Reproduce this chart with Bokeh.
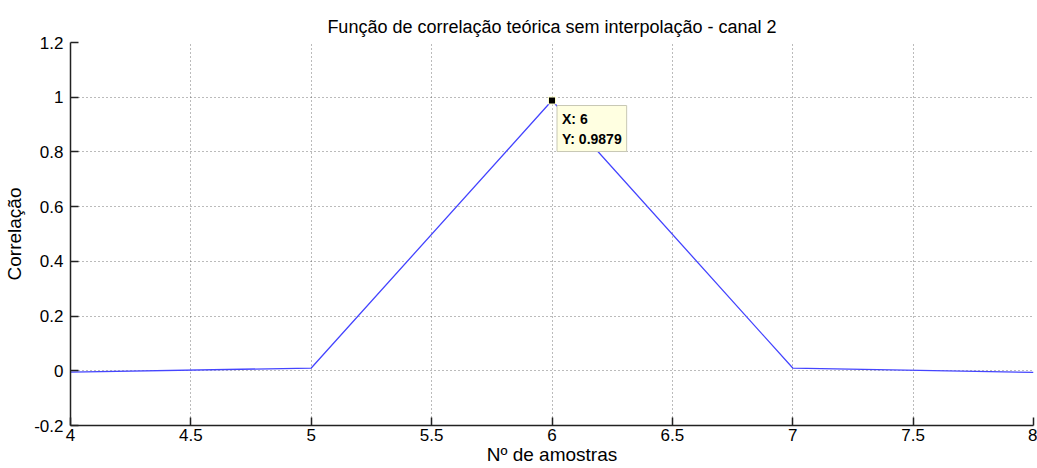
from bokeh.plotting import figure
from bokeh.models import FixedTicker, Label, Range1d
from bokeh.embed import file_html
from bokeh.resources import INLINE

# data
samples = [4, 5, 6, 7, 8]
correlation = [-0.005, 0.01, 0.9879, 0.01, -0.006]
tip_x = 6
tip_y = 0.9879

x_ticks = [4, 4.5, 5, 5.5, 6, 6.5, 7, 7.5, 8]
x_tick_labels = ["4", "4.5", "5", "5.5", "6", "6.5", "7", "7.5", "8"]
y_ticks = [-0.2, 0, 0.2, 0.4, 0.6, 0.8, 1, 1.2]
y_tick_labels = ["-0.2", "0", "0.2", "0.4", "0.6", "0.8", "1", "1.2"]

title = "Função de correlação teórica sem interpolação - canal 2"
x_label = "Nº de amostras"
y_label = "Correlação"

FONT = "Liberation Sans"

p = figure(width=1037, height=468, output_backend="svg", toolbar_location=None,
           x_range=Range1d(4, 8), y_range=Range1d(-0.2, 1.2),
           min_border_left=70, min_border_right=4, min_border_top=42, min_border_bottom=43)

p.title.text = title
p.title.align = "center"
p.title.text_font = FONT
p.title.text_font_size = "18px"
p.title.text_font_style = "normal"
p.title.text_color = "black"
p.title.standoff = 12

p.outline_line_color = None
p.background_fill_color = "white"
p.border_fill_color = "white"

for ax, ticks, labels in ((p.xaxis[0], x_ticks, x_tick_labels), (p.yaxis[0], y_ticks, y_tick_labels)):
    ax.ticker = FixedTicker(ticks=ticks, minor_ticks=[])
    ax.major_label_overrides = {t: l for t, l in zip(ticks, labels)}
    ax.major_tick_in = 8
    ax.major_tick_out = 0
    ax.minor_tick_in = 0
    ax.minor_tick_out = 0
    ax.axis_line_color = "#222222"
    ax.axis_line_width = 1.5
    ax.major_tick_line_color = "#222222"
    ax.major_tick_line_width = 1.5
    ax.major_label_text_font = FONT
    ax.major_label_text_font_size = "17px"
    ax.major_label_text_color = "black"
    ax.axis_label_text_font = FONT
    ax.axis_label_text_font_size = "19px"
    ax.axis_label_text_font_style = "normal"
    ax.axis_label_text_color = "black"

p.xaxis.axis_label = x_label
p.yaxis.axis_label = y_label
p.xaxis.major_label_standoff = 3
p.xaxis.axis_label_standoff = 0
p.yaxis.major_label_standoff = 7
p.yaxis.axis_label_standoff = 6

for g in (p.xgrid[0], p.ygrid[0]):
    g.grid_line_color = "#555555"
    g.grid_line_dash = "1 3"
    g.grid_line_width = 1
    g.grid_line_alpha = 0.8

p.line(samples, correlation, line_color="#4545ff", line_width=1.3)

p.scatter([tip_x], [tip_y], marker="square", size=7, fill_color="black", line_color="#ffffcc")

tip = Label(x=tip_x, y=tip_y, x_offset=5, y_offset=-5,
            text=f"X: {tip_x}\nY: {tip_y}",
            text_font=FONT, text_font_size="14px", text_font_style="bold",
            text_color="black", text_line_height=1.25,
            text_align="left", text_baseline="top",
            background_fill_color="#ffffe1", border_line_color="#c8c8b4",
            border_line_width=1, padding=5)
p.add_layout(tip)

open("out.html", "w").write(file_html(p, INLINE))
